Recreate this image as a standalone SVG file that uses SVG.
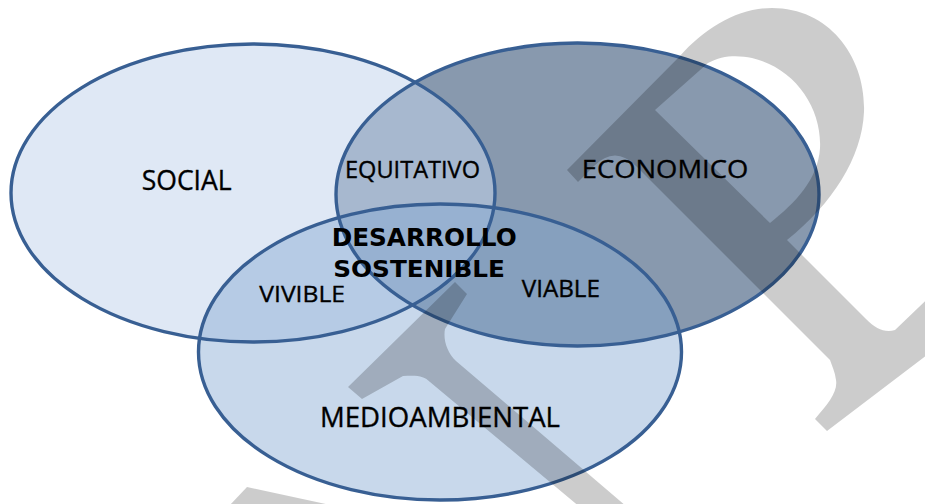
<svg xmlns="http://www.w3.org/2000/svg" width="925" height="504" viewBox="0 0 925 504">
<style>
.lbl{font-family:"Open Sans","Liberation Sans",sans-serif;fill:#000;stroke:#000;stroke-width:0.35;}
.ctr{font-family:"DejaVu Sans","Liberation Sans",sans-serif;font-weight:bold;fill:#000;}
.outline{fill:none;stroke:#385f93;stroke-width:3.4;}
.wm{fill:#000;fill-opacity:0.2;}
</style>
<rect width="925" height="504" fill="#ffffff"/>
<g id="economico">
<ellipse cx="577.5" cy="194.5" rx="241.5" ry="151.5" fill="#8899ae"/>
</g>
<g id="social">
<ellipse cx="253" cy="193" rx="242" ry="149" fill="#c3d4ec" fill-opacity="0.53"/>
</g>
<g id="medioambiental">
<ellipse cx="440" cy="352" rx="241.5" ry="148" fill="#85a8d3" fill-opacity="0.45"/>
</g>
<g id="connectors">
<ellipse class="outline" cx="577.5" cy="194.5" rx="241.5" ry="151.5"/>
<ellipse class="outline" cx="253" cy="193" rx="242" ry="149"/>
<ellipse class="outline" cx="440" cy="352" rx="241.5" ry="148"/>
</g>
<g id="watermark">
<path class="wm" fill-rule="evenodd" d="M567,170 L680,56 C705,28 738,8 772,8 C830,8 866,58 864,112 C862,158 832,204 787,240 L866,319 C876,329 885,333 895,330 L940,287 L940,345 L827,431 L815,419 C828,404 838,392 836,380 C835,372 832,366 830,360 L636,166 Q615,145 594,166 L578,182 Z M655,110 L708,63 C722,55 738,55 752,58 C795,68 822,108 820,148 C818,180 795,203 770,223 Z"/>
<path class="wm" d="M348,387 L455,282 L467,294 L445,329 C443,340 447,352 456,361 L640,518 L593,518 L430,382 C424,376 418,375 403,376 L362,399 Z"/>
<path class="wm" d="M229,506 L247,487 L335,506 Z"/>
</g>
<g id="labels">
<text class="lbl" x="141.7" y="190" font-size="27" textLength="90" lengthAdjust="spacingAndGlyphs">SOCIAL</text>
<text class="lbl" x="581.7" y="178.3" font-size="26" textLength="166.6" lengthAdjust="spacingAndGlyphs">ECONOMICO</text>
<text class="lbl" x="320" y="427.3" font-size="27" textLength="240" lengthAdjust="spacingAndGlyphs">MEDIOAMBIENTAL</text>
<text class="lbl" x="345" y="177.5" font-size="23" textLength="135" lengthAdjust="spacingAndGlyphs">EQUITATIVO</text>
<text class="lbl" x="259.3" y="301.7" font-size="22" textLength="85.7" lengthAdjust="spacingAndGlyphs">VIVIBLE</text>
<text class="lbl" x="521.7" y="297.3" font-size="23" textLength="78.3" lengthAdjust="spacingAndGlyphs">VIABLE</text>
<text class="ctr" x="331.7" y="246" font-size="25" textLength="185" lengthAdjust="spacingAndGlyphs">DESARROLLO</text>
<text class="ctr" x="333.3" y="277.3" font-size="23.5" textLength="171.7" lengthAdjust="spacingAndGlyphs">SOSTENIBLE</text>
</g>
</svg>
